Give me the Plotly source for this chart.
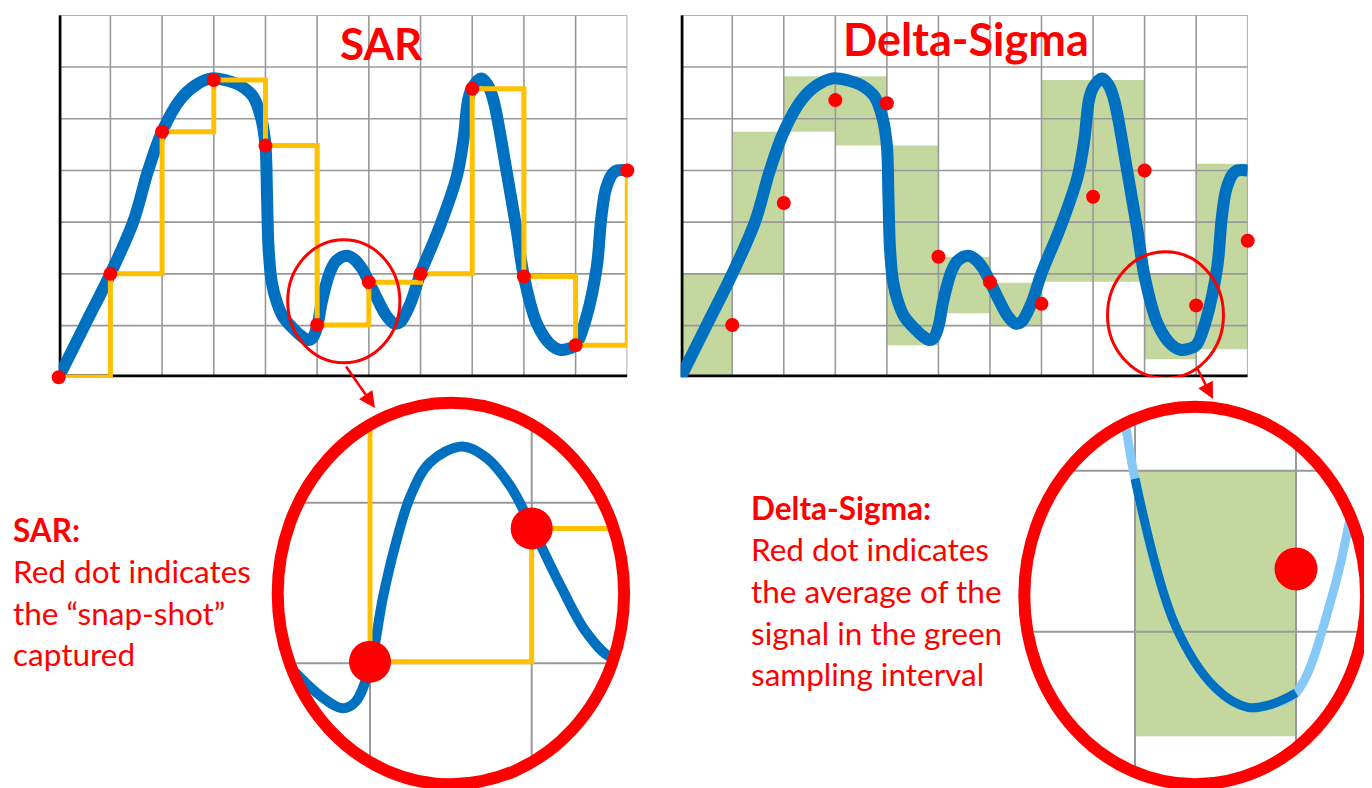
import numpy as np
import plotly.graph_objects as go

# The page body adds an 8 px margin, so the figure is drawn 8 px smaller and
# every reference pixel position is shifted by that offset.
OFF = 8
W, H = 1372 - OFF, 788 - OFF

# ---------------- data ----------------
# analog signal (same signal drawn in both panels)
curve_x = [0.0, 0.5, 1.0, 1.44, 1.73, 2.0, 2.35, 2.65, 2.95, 3.25, 3.5, 3.76, 3.92,
           4.0, 4.03, 4.06, 4.12, 4.22, 4.34, 4.53, 4.69, 4.83, 4.91, 5.0, 5.08,
           5.155, 5.25, 5.37, 5.57, 5.72, 5.87, 6.0, 6.18, 6.34, 6.49, 6.6, 6.8,
           7.0, 7.37, 7.7, 7.83, 7.92, 8.0, 8.17, 8.3, 8.41, 8.67, 8.86, 9.0, 9.25,
           9.5, 9.7, 9.85, 10.0, 10.21, 10.41, 10.5, 10.6, 10.76, 11.0]
curve_y = [0.0, 1.0, 2.0, 3.0, 4.0, 4.75, 5.37, 5.65, 5.78, 5.74, 5.65, 5.43, 5.0,
           4.48, 3.5, 2.5, 1.85, 1.45, 1.17, 0.95, 0.8, 0.72, 0.76, 0.98, 1.41,
           1.73, 2.04, 2.25, 2.35, 2.28, 2.1, 1.85, 1.48, 1.19, 1.04, 1.06, 1.42,
           2.01, 2.91, 3.88, 4.59, 5.36, 5.6, 5.78, 5.65, 5.36, 3.95, 2.85, 1.95, 1.04,
           0.65, 0.53, 0.55, 0.62, 1.17, 2.14, 3.11, 3.69, 3.98, 4.0]

# SAR snapshots (one per grid step)
sample_x = list(range(12))
sar_y = [0.0, 2.0, 4.75, 5.75, 4.48, 1.01, 1.84, 2.0, 5.58, 1.95, 0.62, 4.0]

# Delta-Sigma sampling intervals (min / max of the green boxes)
interval_start = list(range(11))
green_lo = [0.0, 2.0, 4.75, 4.48, 0.62, 1.24, 1.01, 1.85, 1.85, 0.35, 0.54]
green_hi = [2.0, 4.75, 5.82, 5.82, 4.48, 2.33, 1.83, 5.75, 5.75, 2.0, 4.13]

# Delta-Sigma averages (dot at end of each interval)
avg_x = list(range(1, 12))
avg_y = [1.01, 3.37, 5.36, 5.30, 2.33, 1.84, 1.42, 3.49, 4.0, 1.39, 2.64]

x_grid = list(range(1, 12))
y_grid = list(range(1, 8))

# texts
title_left = "SAR"
title_right = "Delta-Sigma"
sar_lines = ["<b>SAR:</b>", "Red dot indicates", "the \u201csnap-shot\u201d", "captured"]
ds_lines = ["<b>Delta-Sigma:</b>", "Red dot indicates", "the average of the",
            "signal in the green", "sampling interval"]

# ---------------- styles ----------------
BLUE = "#0070C0"
LIGHTBLUE = "#86C8F8"
YELLOW = "#FFC000"
RED = "#FF0000"
GREEN = "#C4D79F"
GRID = "#999999"
FONT = "Lato"


def px(xp):
    return (xp - OFF) / W


def py(yp):
    return 1 - (yp - OFF) / H


fig = go.Figure()


def grid_trace(xs, ys, xr, yr, xa, ya, width=1.6):
    gx, gy = [], []
    for v in xs:
        gx += [v, v, None]
        gy += [yr[0], yr[1], None]
    for v in ys:
        gx += [xr[0], xr[1], None]
        gy += [v, v, None]
    return go.Scatter(x=gx, y=gy, mode="lines", line=dict(color=GRID, width=width),
                      xaxis=xa, yaxis=ya, hoverinfo="skip", showlegend=False,
                      cliponaxis=False)


def axes_trace(xa, ya):
    return go.Scatter(x=[0, 0, 11], y=[7, 0, 0], mode="lines",
                      line=dict(color="black", width=5.5),
                      xaxis=xa, yaxis=ya, hoverinfo="skip", showlegend=False,
                      cliponaxis=False)


def curve_trace(xs, ys, xa, ya, color, width, clip=False):
    return go.Scatter(x=xs, y=ys, mode="lines", line=dict(color=color, width=width,
                      shape="spline", smoothing=1.0),
                      xaxis=xa, yaxis=ya, hoverinfo="skip", showlegend=False,
                      cliponaxis=clip)


def dots(xs, ys, xa, ya, size, clip=False):
    return go.Scatter(x=xs, y=ys, mode="markers",
                      marker=dict(color=RED, size=size, line=dict(width=0)),
                      xaxis=xa, yaxis=ya, hoverinfo="skip", showlegend=False,
                      cliponaxis=clip)


# ---------- left main (SAR) ----------
fig.add_trace(grid_trace(x_grid, y_grid, (0, 11), (0, 7), "x", "y"))
fig.add_trace(axes_trace("x", "y"))
fig.add_trace(curve_trace(curve_x, curve_y, "x", "y", BLUE, 12))
fig.add_trace(go.Scatter(x=sample_x, y=sar_y, mode="lines",
                         line=dict(color=YELLOW, width=5, shape="hv"),
                         xaxis="x", yaxis="y", hoverinfo="skip", showlegend=False,
                         cliponaxis=False))
fig.add_trace(dots(sample_x, sar_y, "x", "y", 14))

# ---------- right main (Delta-Sigma) ----------
fig.add_trace(go.Bar(x=[s + 0.5 for s in interval_start],
                     y=[h - l for h, l in zip(green_hi, green_lo)], base=green_lo,
                     width=1, marker=dict(color=GREEN, line=dict(width=0)),
                     xaxis="x2", yaxis="y2", hoverinfo="skip", showlegend=False))
fig.add_trace(grid_trace(x_grid, y_grid, (0, 11), (0, 7), "x2", "y2"))
fig.add_trace(axes_trace("x2", "y2"))
fig.add_trace(curve_trace(curve_x, curve_y, "x2", "y2", BLUE, 12))
fig.add_trace(dots(avg_x, avg_y, "x2", "y2", 14))

# ---------- left zoom ----------
zl_x = (4.392, 6.608)
zl_y = (0.2235, 2.660)
fig.add_trace(grid_trace([5, 6], [1, 2], zl_x, zl_y, "x3", "y3", width=2))
fig.add_trace(curve_trace(curve_x, curve_y, "x3", "y3", BLUE, 10, clip=True))
fig.add_trace(go.Scatter(x=sample_x, y=sar_y, mode="lines",
                         line=dict(color=YELLOW, width=5, shape="hv"),
                         xaxis="x3", yaxis="y3", hoverinfo="skip", showlegend=False))
fig.add_trace(dots(sample_x, sar_y, "x3", "y3", 42, clip=True))

# ---------- right zoom ----------
k = 9
zr_x = (8.275, 10.472)
zr_y = (0.029, 2.435)
fig.add_trace(go.Bar(x=[interval_start[k] + 0.5], y=[green_hi[k] - green_lo[k]],
                     base=[green_lo[k]], width=1,
                     marker=dict(color=GREEN, line=dict(width=0)),
                     xaxis="x4", yaxis="y4", hoverinfo="skip", showlegend=False))
fig.add_trace(grid_trace([9, 10], [1, 2], zr_x, zr_y, "x4", "y4", width=2))
fig.add_trace(curve_trace(curve_x, curve_y, "x4", "y4", LIGHTBLUE, 9, clip=True))
seg = [(a, b) for a, b in zip(curve_x, curve_y) if k <= a <= k + 1]
fig.add_trace(curve_trace([a for a, _ in seg], [b for _, b in seg], "x4", "y4", BLUE, 9,
                          clip=True))
fig.add_trace(dots([avg_x[k]], [avg_y[k]], "x4", "y4", 43, clip=True))

# ---------- layout / axes ----------
main_y = [py(377.3), py(15.3)]


def ax(domain, rng):
    return dict(domain=[max(0.0, domain[0]), min(1.0, domain[1])], range=list(rng),
                visible=False, fixedrange=True, showgrid=False, zeroline=False)


layout = dict(
    width=W, height=H, margin=dict(l=0, r=0, t=0, b=0), autosize=False,
    paper_bgcolor="white", plot_bgcolor="rgba(0,0,0,0)", showlegend=False,
    barmode="overlay",
    xaxis=ax([px(58.7), px(627.3)], (0, 11)),
    yaxis=dict(ax(main_y, (0, 7)), anchor="x"),
    xaxis2=dict(ax([px(680.7), px(1247.7)], (0, 11)), anchor="y2"),
    yaxis2=dict(ax(main_y, (0, 7)), anchor="x2"),
    xaxis3=dict(ax([px(271.7), px(630)], zl_x), anchor="y3"),
    yaxis3=dict(ax([py(788), py(396.7)], zl_y), anchor="x3"),
    xaxis4=dict(ax([px(1018.3), px(1372)], zr_x), anchor="y4"),
    yaxis4=dict(ax([py(788), py(400.7)], zr_y), anchor="x4"),
)
fig.update_layout(**layout)


# ---------- masks + rings for the magnified views ----------
def ellipse_path(cx, cy, rx, ry, box):
    bx0, by0, bx1, by1 = box
    p = f"M{px(bx0)},{py(by0)} L{px(bx1)},{py(by0)} L{px(bx1)},{py(by1)} L{px(bx0)},{py(by1)} Z "
    t = np.linspace(0, 2 * np.pi, 181)
    pts = [(px(cx + rx * np.cos(a)), py(cy + ry * np.sin(a))) for a in t]
    p += "M" + " L".join(f"{a:.5f},{b:.5f}" for a, b in pts) + " Z"
    return p


shapes = []
for cx, cy, rx, ry, box in [
    (450.9, 593.5, 173.2, 190.8, (268, 393, 634, 792)),
    (1195.2, 595.5, 170.9, 188.8, (1014, 397, 1376, 792)),
]:
    shapes.append(dict(type="path", xref="paper", yref="paper",
                       path=ellipse_path(cx, cy, rx, ry, box), fillcolor="white",
                       line=dict(width=0), layer="above", fillrule="evenodd"))
    shapes.append(dict(type="circle", xref="paper", yref="paper",
                       x0=px(cx - rx), x1=px(cx + rx), y0=py(cy + ry), y1=py(cy - ry),
                       line=dict(color=RED, width=12), layer="above"))

# small highlight circles on the main charts
shapes.append(dict(type="circle", xref="x", yref="y", x0=4.43, x1=6.6, y0=0.28, y1=2.66,
                   line=dict(color=RED, width=3), layer="above"))
shapes.append(dict(type="circle", xref="x2", yref="y2", x0=8.28, x1=10.53, y0=-0.02,
                   y1=2.43, line=dict(color=RED, width=3), layer="above"))
fig.update_layout(shapes=shapes)

# ---------- annotations ----------
ann = []
ann.append(dict(x=px(381.7), y=py(60 - 17), xref="paper", yref="paper",
                text=f"<b>{title_left}</b>", showarrow=False, xanchor="center",
                yanchor="middle", font=dict(family=FONT, size=44, color=RED)))
ann.append(dict(x=px(965.9), y=py(56.7 - 17.4), xref="paper", yref="paper",
                text=f"<b>{title_right}</b>", showarrow=False, xanchor="center",
                yanchor="middle", font=dict(family=FONT, size=45, color=RED)))

BS = 31.5
for i, line in enumerate(sar_lines):
    base = 541.7 + 41.5 * i
    ann.append(dict(x=px(12), y=py(base - 0.387 * BS), xref="paper", yref="paper",
                    text=line, showarrow=False, xanchor="left", yanchor="middle",
                    borderpad=0, font=dict(family=FONT, size=BS, color=RED)))
for i, line in enumerate(ds_lines):
    base = 520 + 41.6 * i
    ann.append(dict(x=px(749.5), y=py(base - 0.387 * BS), xref="paper", yref="paper",
                    text=line, showarrow=False, xanchor="left", yanchor="middle",
                    borderpad=0, font=dict(family=FONT, size=BS, color=RED)))

# arrows from small circles to magnified views
for tip, tail in [((375, 408), (345, 365)), ((1213, 399), (1196, 366))]:
    ann.append(dict(x=px(tip[0]), y=py(tip[1]), xref="paper", yref="paper",
                    ax=tail[0] - tip[0], ay=tail[1] - tip[1], text="", showarrow=True,
                    arrowhead=2, arrowsize=1.3, arrowwidth=2.5, arrowcolor=RED,
                    standoff=0, startstandoff=0))
fig.update_layout(annotations=ann)

fig.write_html("out.html")
